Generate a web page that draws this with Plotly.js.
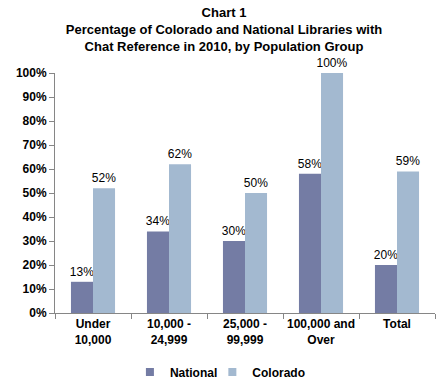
<!DOCTYPE html>
<html>
<head>
<meta charset="utf-8">
<script src="https://cdn.plot.ly/plotly-3.0.1.min.js"></script>
<style>html,body{margin:0;padding:0;background:#fff;}#chart{width:448px;height:392px;}</style>
</head>
<body>
<div id="chart"></div>
<script>
const categories = ["Under<br>10,000", "10,000 -<br>24,999", "25,000 -<br>99,999", "100,000 and<br>Over", "Total"];
const nationalValues = [0.13, 0.34, 0.30, 0.58, 0.20];
const coloradoValues = [0.52, 0.62, 0.50, 1.00, 0.59];
const seriesNames = ["National", "Colorado"];
const seriesColors = ["#747CA4", "#A3B9D0"];
const yTickValues = [0, 0.1, 0.2, 0.3, 0.4, 0.5, 0.6, 0.7, 0.8, 0.9, 1.0];

const fontFamily = "Liberation Sans, Arial, sans-serif";
function pct(v) { return Math.round(v * 100) + "%"; }

const seriesValues = [nationalValues, coloradoValues];
const legendIds = ["legend", "legend2"];
const traces = [];
seriesValues.forEach((vals, i) => {
  traces.push({
    type: "bar", name: seriesNames[i], x: categories, y: vals,
    marker: {color: seriesColors[i]},
    text: vals.map(pct), textposition: "outside",
    textfont: {family: fontFamily, size: 12, color: "#000"},
    cliponaxis: false, constraintext: "none", hoverinfo: "none",
    showlegend: false
  });
});
// legend entries with small square swatches
seriesValues.forEach((vals, i) => {
  traces.push({
    type: "scatter", mode: "markers", name: seriesNames[i],
    x: [null], y: [null],
    marker: {color: seriesColors[i], symbol: "square", size: 8},
    showlegend: true, hoverinfo: "none", legend: legendIds[i]
  });
});

const legendBase = {
  orientation: "h", xref: "container", yref: "container",
  xanchor: "left", y: 0.088, yanchor: "top",
  font: {family: fontFamily, size: 12, color: "#000", weight: "bold"},
  itemwidth: 30, bgcolor: "rgba(0,0,0,0)"
};

const layout = {
  width: 448, height: 392,
  margin: {l: 55, r: 13, t: 73, b: 79},
  paper_bgcolor: "#fff", plot_bgcolor: "#fff",
  font: {family: fontFamily, size: 12, color: "#000"},
  title: {
    text: "<b>Chart 1<br>Percentage of Colorado and National Libraries with<br>Chat Reference in 2010, by Population Group</b>",
    font: {family: fontFamily, size: 13, color: "#000"},
    x: 0.5, xanchor: "center", y: 0.957, yanchor: "top"
  },
  barmode: "group", bargap: 0.42, bargroupgap: 0,
  showlegend: true,
  legend: Object.assign({}, legendBase, {x: 0.290}),
  legend2: Object.assign({}, legendBase, {x: 0.474}),
  xaxis: {
    type: "category", automargin: false,
    showline: true, linecolor: "#868686", linewidth: 1,
    ticks: "outside", ticklen: 5, tickcolor: "#868686",
    tickson: "boundaries", tickangle: 0,
    tickfont: {family: fontFamily, size: 12, color: "#000", weight: "bold"},
    showgrid: false, zeroline: false, fixedrange: true
  },
  yaxis: {
    range: [0, 1], automargin: false,
    tickvals: yTickValues, tickformat: ".0%",
    showline: true, linecolor: "#868686", linewidth: 1,
    ticks: "outside", ticklen: 5, tickcolor: "#868686",
    tickfont: {family: fontFamily, size: 12, color: "#000", weight: "bold"},
    showgrid: false, zeroline: false, fixedrange: true
  }
};

Plotly.newPlot("chart", traces, layout, {displayModeBar: false, staticPlot: true});
</script>
</body>
</html>
